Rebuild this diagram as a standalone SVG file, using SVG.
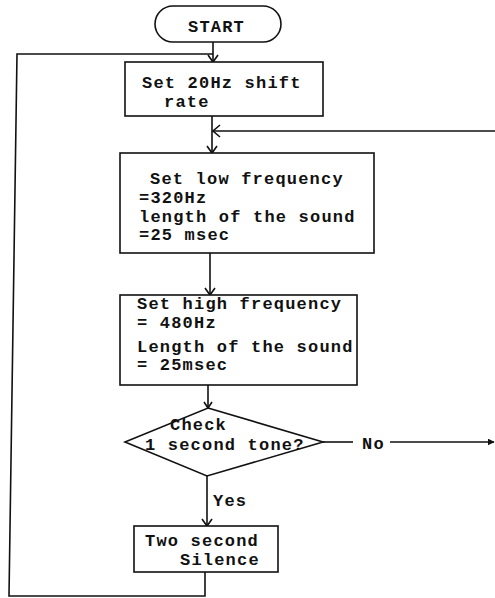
<svg xmlns="http://www.w3.org/2000/svg" width="495" height="598" viewBox="0 0 495 598">
<style>
.box{fill:#fff;stroke:#111;stroke-width:1.6}
.ln{fill:none;stroke:#111;stroke-width:1.6}
.ah{fill:none;stroke:#111;stroke-width:1.6;stroke-linejoin:miter}
.t{font-family:"Liberation Mono","Courier New",monospace;font-size:17px;letter-spacing:1.2px;font-weight:bold;fill:#111}
</style>
<defs>
<marker id="filled" viewBox="0 0 10 10" refX="9" refY="5" markerWidth="7" markerHeight="7" markerUnits="userSpaceOnUse" orient="auto">
<path d="M0,0 L10,5 L0,10 Z" fill="#111"/>
</marker>
</defs>
<rect width="495" height="598" fill="#fff"/>
<g id="connectors">
<line class="ln" x1="213" y1="42" x2="213" y2="62"/>
<path class="ah" d="M208,55 L213,62 L218,55"/>
<path class="ln" d="M205,572 L205,596 L9,596 L17,54 L213,54"/>
<line class="ln" x1="212" y1="116" x2="212" y2="153"/>
<path class="ah" d="M207,146 L212,153 L217,146"/>
<line class="ln" x1="495" y1="131" x2="213" y2="131"/>
<path class="ah" d="M220,125 L213,131 L220,137"/>
<line class="ln" x1="210" y1="253" x2="210" y2="295"/>
<path class="ah" d="M205,288 L210,295 L215,288"/>
<line class="ln" x1="208" y1="385" x2="208" y2="408"/>
<path class="ah" d="M204,402 L208,408 L212,402"/>
<line class="ln" x1="323" y1="442" x2="353" y2="442"/>
<line class="ln" x1="390" y1="442" x2="494" y2="442" marker-end="url(#filled)"/>
<line class="ln" x1="207" y1="476" x2="207" y2="526"/>
<path class="ah" d="M202,519 L207,526 L212,519"/>
<text class="t" x="362" y="449">No</text>
<text class="t" x="213" y="506">Yes</text>
</g>
<g id="start">
<rect class="box" x="155" y="6" width="126" height="36" rx="18" ry="18"/>
<text class="t" x="188" y="32">START</text>
</g>
<g id="shift">
<rect class="box" x="125" y="62" width="198" height="54"/>
<text class="t" x="142" y="88">Set 20Hz shift</text>
<text class="t" x="164" y="107">rate</text>
</g>
<g id="low">
<rect class="box" x="120" y="153" width="254" height="100"/>
<text class="t" x="150" y="184">Set low frequency</text>
<text class="t" x="139" y="203">=320Hz</text>
<text class="t" x="139" y="222">length of the sound</text>
<text class="t" x="139" y="240">=25 msec</text>
</g>
<g id="high">
<rect class="box" x="120" y="295" width="237" height="90"/>
<text class="t" x="137" y="309">Set high frequency</text>
<text class="t" x="137" y="328">= 480Hz</text>
<text class="t" x="137" y="352">Length of the sound</text>
<text class="t" x="137" y="370">= 25msec</text>
</g>
<g id="check">
<polygon class="box" points="208,408 323,442 207,476 125,442"/>
<text class="t" x="170" y="430">Check</text>
<text class="t" x="145" y="450">1 second tone?</text>
</g>
<g id="silence">
<rect class="box" x="134" y="526" width="144" height="46"/>
<text class="t" x="145" y="546">Two second</text>
<text class="t" x="180" y="565">Silence</text>
</g>
</svg>
